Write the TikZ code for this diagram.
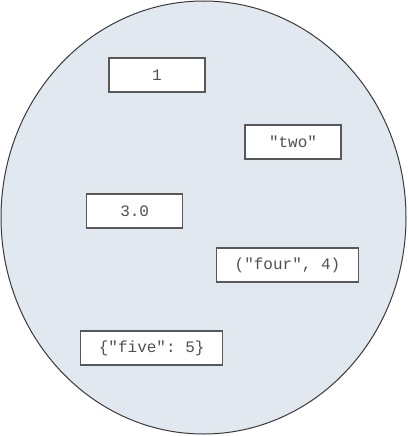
\documentclass[tikz,border=0pt]{standalone}
\usepackage{fontspec}
\setmonofont{Liberation Mono}
\definecolor{setfill}{HTML}{E1E8EF}
\definecolor{edge}{HTML}{3A3A3A}
\definecolor{ink}{HTML}{505050}

\begin{document}
\begin{tikzpicture}[x=1pt, y=-1pt,
  member/.style={draw=edge!85, fill=white, line width=1.2pt, inner sep=0pt,
    minimum width=96pt, minimum height=34pt, text=ink,
    font=\ttfamily\fontsize{16}{16}\selectfont}]
\useasboundingbox (0, 0) rectangle (407, 436);
\draw [fill=setfill, draw=edge, line width=1pt] (203.5, 217.5) ellipse [x radius=202.5, y radius=216.5];
\node [member] (one) at (157, 75) {1};
\node [member] (two) at (293, 142) {"two"};
\node [member] (three) at (134.7, 211) {3.0};
\node [member, minimum width=142pt] (four) at (287.5, 265) {("four", 4)};
\node [member, minimum width=142pt] (five) at (151.7, 348) {\{"five": 5\}};
\end{tikzpicture}
\end{document}
